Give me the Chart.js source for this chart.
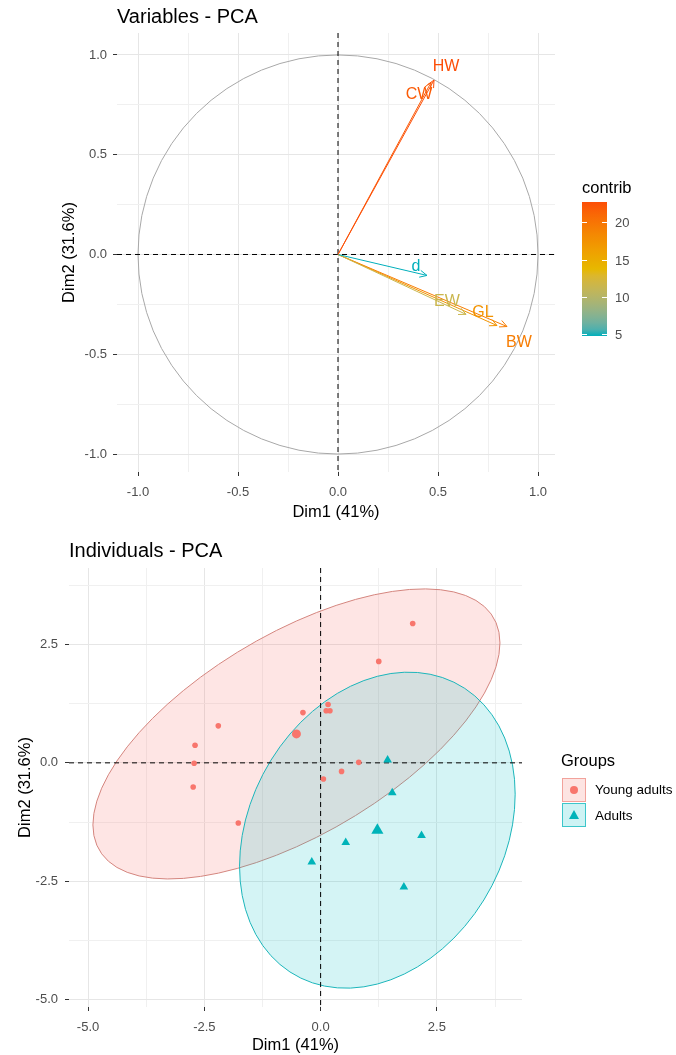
<!DOCTYPE html>
<html>
<head>
<meta charset="utf-8">
<title>PCA</title>
<script src="https://cdn.jsdelivr.net/npm/chart.js@4.4.1/dist/chart.umd.min.js"></script>
<style>
  body { margin: 0; background: #fff; font-family: "Liberation Sans", Arial, sans-serif; }
  #page { position: relative; width: 676px; height: 1055px; overflow: hidden; }
  canvas { position: absolute; left: 0; }
  .lbl { position: absolute; white-space: nowrap; line-height: 1; }
  .legTitle { font-size: 16.5px; color: #000; }
  .tickLbl { font-size: 13px; color: #4d4d4d; }
  .keyLbl { font-size: 13.5px; color: #000; }
  .key { position: absolute; width: 24px; height: 24px; box-sizing: border-box; }
</style>
</head>
<body>
<div id="page">
  <canvas id="varChart" width="676" height="530" style="top:0"></canvas>
  <canvas id="indChart" width="676" height="525" style="top:530px"></canvas>

  <div class="lbl legTitle" style="left:582px;top:179px">contrib</div>
  <div id="colorBar" style="position:absolute;left:582px;top:202px;width:25px;height:134px"></div>

  <div class="lbl legTitle" style="left:561px;top:752px">Groups</div>
  <div class="key" style="left:562px;top:778px;background:#fde4e2;border:1px solid #f2a29b"></div>
  <div style="position:absolute;left:570px;top:786px;width:8px;height:8px;border-radius:50%;background:#F8766D"></div>
  <div class="lbl keyLbl" style="left:595px;top:783px">Young adults</div>
  <div class="key" style="left:562px;top:803px;background:#cdf3f4;border:1px solid #3cc6ca"></div>
  <div style="position:absolute;left:569px;top:810px;width:0;height:0;border-left:5px solid transparent;border-right:5px solid transparent;border-bottom:9px solid #00B3B9"></div>
  <div class="lbl keyLbl" style="left:595px;top:809px">Adults</div>
</div>
<script>
// variables plot (correlation circle)
const varNames = ['HW', 'CW', 'd', 'EW', 'GL', 'BW'];
const varDim1 = [0.48, 0.465, 0.445, 0.64, 0.795, 0.845];
const varDim2 = [0.874, 0.862, -0.105, -0.30, -0.356, -0.361];
const varContrib = [22.8, 22.0, 4.8, 11.5, 17.4, 19.4];
const contribTicks = [5, 10, 15, 20];
const varTicks = [-1, -0.5, 0, 0.5, 1];

// individuals plot
const groupNames = ['Young adults', 'Adults'];
const youngDim1 = [-2.70, -2.72, -2.74, -2.20, -1.77, -0.38, 0.16, 0.12, 0.20, 0.06, 1.98, 1.25, 0.82, 0.45];
const youngDim2 = [0.37, -0.01, -0.51, 0.78, -1.27, 1.06, 1.23, 1.10, 1.10, -0.34, 2.94, 2.14, 0.01, -0.18];
const adultDim1 = [1.44, 1.54, 2.17, 0.54, -0.19, 1.79];
const adultDim2 = [0.06, -0.63, -1.53, -1.68, -2.09, -2.62];
const groupMeanDim1 = [-0.52, 1.22];
const groupMeanDim2 = [0.61, -1.42];
// concentration ellipse (scaled covariance terms)
const ellSxx = [19.15, 8.78];
const ellSyy = [9.36, 11.11];
const ellSxy = [8.4, 2.25];
const indTicks = [-5, -2.5, 0, 2.5];

const gradStops = ['#00AFBB', '#E7B800', '#FC4E07'];
const cMin = Math.min(...varContrib), cMax = Math.max(...varContrib);

// colour ramp in CIELAB, like ggplot's gradientn
function hexToLab(h) {
  const rgb = [1, 3, 5].map(i => parseInt(h.substr(i, 2), 16) / 255)
    .map(c => c <= 0.04045 ? c / 12.92 : Math.pow((c + 0.055) / 1.055, 2.4));
  const [r, g, b] = rgb;
  const X = (0.4124 * r + 0.3576 * g + 0.1805 * b) / 0.95047;
  const Y = 0.2126 * r + 0.7152 * g + 0.0722 * b;
  const Z = (0.0193 * r + 0.1192 * g + 0.9505 * b) / 1.08883;
  const f = t => t > 0.008856 ? Math.cbrt(t) : 7.787 * t + 16 / 116;
  return [116 * f(Y) - 16, 500 * (f(X) - f(Y)), 200 * (f(Y) - f(Z))];
}
function labToRgb([L, A, B]) {
  const fy = (L + 16) / 116, fx = fy + A / 500, fz = fy - B / 200;
  const inv = t => t * t * t > 0.008856 ? t * t * t : (t - 16 / 116) / 7.787;
  const X = inv(fx) * 0.95047, Y = inv(fy), Z = inv(fz) * 1.08883;
  const lin = [
    3.2406 * X - 1.5372 * Y - 0.4986 * Z,
    -0.9689 * X + 1.8758 * Y + 0.0415 * Z,
    0.0557 * X - 0.2040 * Y + 1.0570 * Z
  ];
  return lin.map(c => {
    c = c <= 0.0031308 ? 12.92 * c : 1.055 * Math.pow(c, 1 / 2.4) - 0.055;
    return Math.max(0, Math.min(255, Math.round(c * 255)));
  });
}
const gradLab = gradStops.map(hexToLab);
function rampColor(t) {
  t = Math.max(0, Math.min(1, t)) * 2;
  const i = Math.min(1, Math.floor(t));
  const u = t - i;
  const lab = gradLab[i].map((k, j) => k + (gradLab[i + 1][j] - k) * u);
  return 'rgb(' + labToRgb(lab).join(',') + ')';
}
const contribColor = v => rampColor((v - cMin) / (cMax - cMin));

const isMajor = (v, step) => Math.abs(v / step - Math.round(v / step)) < 1e-6;

// grid = majors plus the minor lines half way between
function withMinor(major) {
  const step = major[1] - major[0];
  const out = [major[0] - step / 2];
  major.forEach(v => { out.push(v); out.push(v + step / 2); });
  return out;
}

function axis(min, max, major, size, title, titlePad, tickPad) {
  const step = major[1] - major[0];
  const grid = withMinor(major).filter(v => v >= min && v <= max);
  return {
    type: 'linear', min: min, max: max,
    afterBuildTicks: s => { s.ticks = grid.map(v => ({ value: v })); },
    afterFit: s => { if (s.isHorizontal()) s.height = size; else s.width = size; },
    ticks: {
      autoSkip: false, maxRotation: 0, padding: tickPad, color: '#4d4d4d',
      font: { size: 13, family: '"Liberation Sans", Arial, sans-serif' },
      callback: v => isMajor(v, step) ? v.toFixed(1) : ''
    },
    grid: {
      color: ctx => isMajor(ctx.tick.value, step) ? '#e6e6e6' : '#f0f0f0',
      tickLength: 4,
      tickColor: ctx => isMajor(ctx.tick.value, step) ? '#333333' : 'rgba(0,0,0,0)'
    },
    border: { display: false },
    title: {
      display: true, text: title, color: '#000',
      font: { size: 16.5, family: '"Liberation Sans", Arial, sans-serif' },
      padding: titlePad
    }
  };
}

function dashedZero(chart) {
  const { ctx, chartArea: a, scales: { x, y } } = chart;
  const x0 = x.getPixelForValue(0), y0 = y.getPixelForValue(0);
  ctx.save();
  ctx.strokeStyle = '#000';
  ctx.lineWidth = 1;
  ctx.setLineDash([5, 4]);
  ctx.beginPath();
  ctx.moveTo(x0, a.top); ctx.lineTo(x0, a.bottom);
  ctx.moveTo(a.left, y0); ctx.lineTo(a.right, y0);
  ctx.stroke();
  ctx.restore();
}

// label offsets from the arrow tips, pixels
const labelOffset = { HW: [12, -13], CW: [-12, 12], d: [-11, -9], EW: [-19, -13], GL: [-14, -13], BW: [12, 16] };

const varDecor = {
  id: 'varDecor',
  beforeDatasetsDraw(chart) {
    const { ctx, scales: { x, y } } = chart;
    const cx = x.getPixelForValue(0), cy = y.getPixelForValue(0);
    ctx.save();
    ctx.strokeStyle = '#a8a8a8';
    ctx.lineWidth = 1;
    ctx.beginPath();
    ctx.ellipse(cx, cy, x.getPixelForValue(1) - cx, cy - y.getPixelForValue(1), 0, 0, Math.PI * 2);
    ctx.stroke();
    ctx.restore();
    dashedZero(chart);
  },
  afterDatasetsDraw(chart) {
    const { ctx, scales: { x, y } } = chart;
    const cx = x.getPixelForValue(0), cy = y.getPixelForValue(0);
    ctx.save();
    varNames.forEach((n, i) => {
      const px = x.getPixelForValue(varDim1[i]), py = y.getPixelForValue(varDim2[i]);
      const ang = Math.atan2(py - cy, px - cx);
      const col = contribColor(varContrib[i]);
      ctx.strokeStyle = col;
      ctx.lineWidth = 1;
      ctx.beginPath();
      [-0.45, 0.45].forEach(d => {
        ctx.moveTo(px, py);
        ctx.lineTo(px - 8 * Math.cos(ang + d), py - 8 * Math.sin(ang + d));
      });
      ctx.stroke();
      ctx.fillStyle = col;
      ctx.font = '16px "Liberation Sans", Arial, sans-serif';
      ctx.textAlign = 'center';
      ctx.textBaseline = 'middle';
      const o = labelOffset[n];
      ctx.fillText(n, px + o[0], py + o[1]);
    });
    ctx.restore();
  }
};

const indDecor = {
  id: 'indDecor',
  beforeDatasetsDraw(chart) {
    const { ctx, chartArea: a, scales: { x, y } } = chart;
    const sx = x.getPixelForValue(1) - x.getPixelForValue(0);
    const sy = y.getPixelForValue(0) - y.getPixelForValue(1);
    const fills = ['rgba(248,118,109,0.19)', 'rgba(0,191,196,0.17)'];
    const lines = ['#d4857e', '#1bb5ba'];
    ctx.save();
    ctx.beginPath();
    ctx.rect(a.left, a.top, a.right - a.left, a.bottom - a.top);
    ctx.clip();
    groupNames.forEach((g, i) => {
      const l11 = Math.sqrt(ellSxx[i]);
      const l21 = ellSxy[i] / l11;
      const l22 = Math.sqrt(ellSyy[i] - l21 * l21);
      ctx.save();
      ctx.beginPath();
      ctx.transform(sx * l11, -sy * l21, 0, -sy * l22,
        x.getPixelForValue(groupMeanDim1[i]), y.getPixelForValue(groupMeanDim2[i]));
      ctx.arc(0, 0, 1, 0, Math.PI * 2);
      ctx.restore();
      ctx.fillStyle = fills[i];
      ctx.fill();
      ctx.strokeStyle = lines[i];
      ctx.lineWidth = 1;
      ctx.stroke();
    });
    ctx.restore();
    dashedZero(chart);
  }
};

const titleFont = { size: 20, weight: 'normal', family: '"Liberation Sans", Arial, sans-serif' };

new Chart(document.getElementById('varChart'), {
  type: 'scatter',
  data: {
    datasets: varNames.map((n, i) => ({
      label: n,
      data: [{ x: 0, y: 0 }, { x: varDim1[i], y: varDim2[i] }],
      showLine: true,
      borderColor: contribColor(varContrib[i]),
      borderWidth: 1,
      pointRadius: 0
    }))
  },
  options: {
    responsive: false,
    animation: false,
    layout: { padding: { left: 0, right: 121, top: 0, bottom: 0 } },
    plugins: {
      legend: { display: false },
      tooltip: { enabled: false },
      title: {
        display: true, text: 'Variables - PCA', align: 'start', fullSize: false,
        color: '#000', font: titleFont, padding: { top: 5, bottom: 4 }
      }
    },
    scales: {
      x: axis(-1.105, 1.085, varTicks, 58, 'Dim1 (41%)', { top: 0, bottom: 8 }, 9),
      y: axis(-1.09, 1.11, varTicks, 117, 'Dim2 (31.6%)', { top: 60, bottom: 0 }, 6)
    }
  },
  plugins: [varDecor]
});

new Chart(document.getElementById('indChart'), {
  type: 'scatter',
  data: {
    datasets: [
      {
        label: groupNames[0],
        data: youngDim1.map((v, i) => ({ x: v, y: youngDim2[i] })),
        pointStyle: 'circle', pointRadius: 2.8, borderWidth: 0,
        backgroundColor: '#F8766D'
      },
      {
        label: groupNames[1],
        data: adultDim1.map((v, i) => ({ x: v, y: adultDim2[i] })),
        pointStyle: 'triangle', pointRadius: 5, borderWidth: 0,
        backgroundColor: '#00B3B9'
      },
      {
        label: groupNames[0] + ' mean',
        data: [{ x: groupMeanDim1[0], y: groupMeanDim2[0] }],
        pointStyle: 'circle', pointRadius: 4.5, borderWidth: 0,
        backgroundColor: '#F8766D'
      },
      {
        label: groupNames[1] + ' mean',
        data: [{ x: groupMeanDim1[1], y: groupMeanDim2[1] }],
        pointStyle: 'triangle', pointRadius: 7, borderWidth: 0,
        backgroundColor: '#00B3B9'
      }
    ]
  },
  options: {
    responsive: false,
    animation: false,
    layout: { padding: { left: 0, right: 154, top: 0, bottom: 0 } },
    plugins: {
      legend: { display: false },
      tooltip: { enabled: false },
      title: {
        display: true, text: 'Individuals - PCA', align: 'start', fullSize: false,
        color: '#000', font: titleFont, padding: { top: 9, bottom: 5 }
      }
    },
    scales: {
      x: axis(-5.41, 4.33, indTicks, 48, 'Dim1 (41%)', { top: 0, bottom: 0 }, 9),
      y: axis(-5.15, 4.11, indTicks, 69, 'Dim2 (31.6%)', { top: 16, bottom: 0 }, 7)
    }
  },
  plugins: [indDecor]
});

// colour bar: gradient, ticks and labels
const page = document.getElementById('page');
const barTop = 202, barH = 134, barLeft = 582, barW = 25;
const stops = [];
for (let k = 0; k <= 20; k++) stops.push(rampColor(k / 20) + ' ' + (k * 5) + '%');
document.getElementById('colorBar').style.background = 'linear-gradient(to top,' + stops.join(',') + ')';
contribTicks.forEach(v => {
  const ty = barTop + (cMax - v) / (cMax - cMin) * barH;
  [barLeft, barLeft + barW - 5].forEach(tx => {
    const t = document.createElement('div');
    t.style.cssText = 'position:absolute;left:' + tx + 'px;top:' + (ty - 0.5) + 'px;width:5px;height:1px;background:#fff';
    page.appendChild(t);
  });
  const l = document.createElement('div');
  l.className = 'lbl tickLbl';
  l.style.left = '615px';
  l.style.top = (ty - 6.5) + 'px';
  l.textContent = String(v);
  page.appendChild(l);
});
</script>
</body>
</html>
